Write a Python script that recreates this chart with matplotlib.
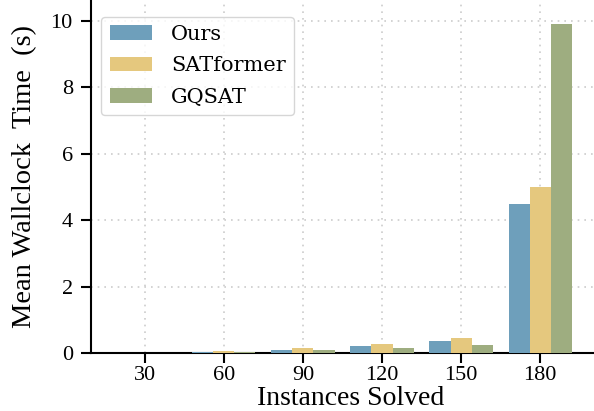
import matplotlib
matplotlib.use("Agg")
from matplotlib import pyplot as plt
import numpy as np

# mean wallclock time (s) per number of instances solved
instances = [30, 60, 90, 120, 150, 180]
ours = [0.01, 0.04, 0.10, 0.20, 0.35, 4.5]
satformer = [0.01, 0.07, 0.16, 0.28, 0.45, 5.0]
gqsat = [0.01, 0.04, 0.09, 0.15, 0.25, 9.9]

series = [("Ours", ours, "#6e9fbb"),
          ("SATformer", satformer, "#e5c87e"),
          ("GQSAT", gqsat, "#9ead80")]

plt.rcParams["font.family"] = ["Liberation Serif", "DejaVu Serif"]

fig = plt.figure(figsize=(5.94, 4.11), dpi=100)
ax = fig.add_axes([0.153, 0.141, 0.847, 0.857])

x = np.arange(len(instances))
w = 0.8 / 3
for i, (name, vals, col) in enumerate(series):
    ax.bar(x + (i - 1) * w, vals, w, color=col, label=name, zorder=3)

ax.set_xticks(x)
ax.set_xticklabels([str(v) for v in instances])
ax.set_xlim(-0.68, 5.68)
ax.set_ylim(0, 10.6)
ax.set_yticks([0, 2, 4, 6, 8, 10])

ax.grid(True, linestyle=(0, (1, 3)), color="#cccccc", linewidth=1.2, zorder=0)
for s in ["top", "right"]:
    ax.spines[s].set_visible(False)
for s in ["left", "bottom"]:
    ax.spines[s].set_linewidth(1.5)
ax.tick_params(axis="both", labelsize=16, length=7, width=1.5)
ax.tick_params(axis="y", pad=6)
ax.tick_params(axis="x", pad=2)

ax.set_xlabel("Instances Solved", fontsize=20, labelpad=0)
ax.xaxis.set_label_coords(0.517, -0.093)
ax.set_ylabel("Mean Wallclock  Time  (s)", fontsize=20.5, labelpad=10)

# legend uses the default serif face
leg = ax.legend(loc="upper left", prop={"family": "DejaVu Serif", "size": 15},
                frameon=True, fancybox=True, handlelength=2.05,
                handleheight=0.7, handletextpad=0.9, labelspacing=0.6,
                borderpad=0.4, bbox_to_anchor=(0.0, 0.985))
leg.get_frame().set_edgecolor("#cccccc")
leg.get_frame().set_linewidth(1.0)

fig.savefig("out.png", dpi=100)
